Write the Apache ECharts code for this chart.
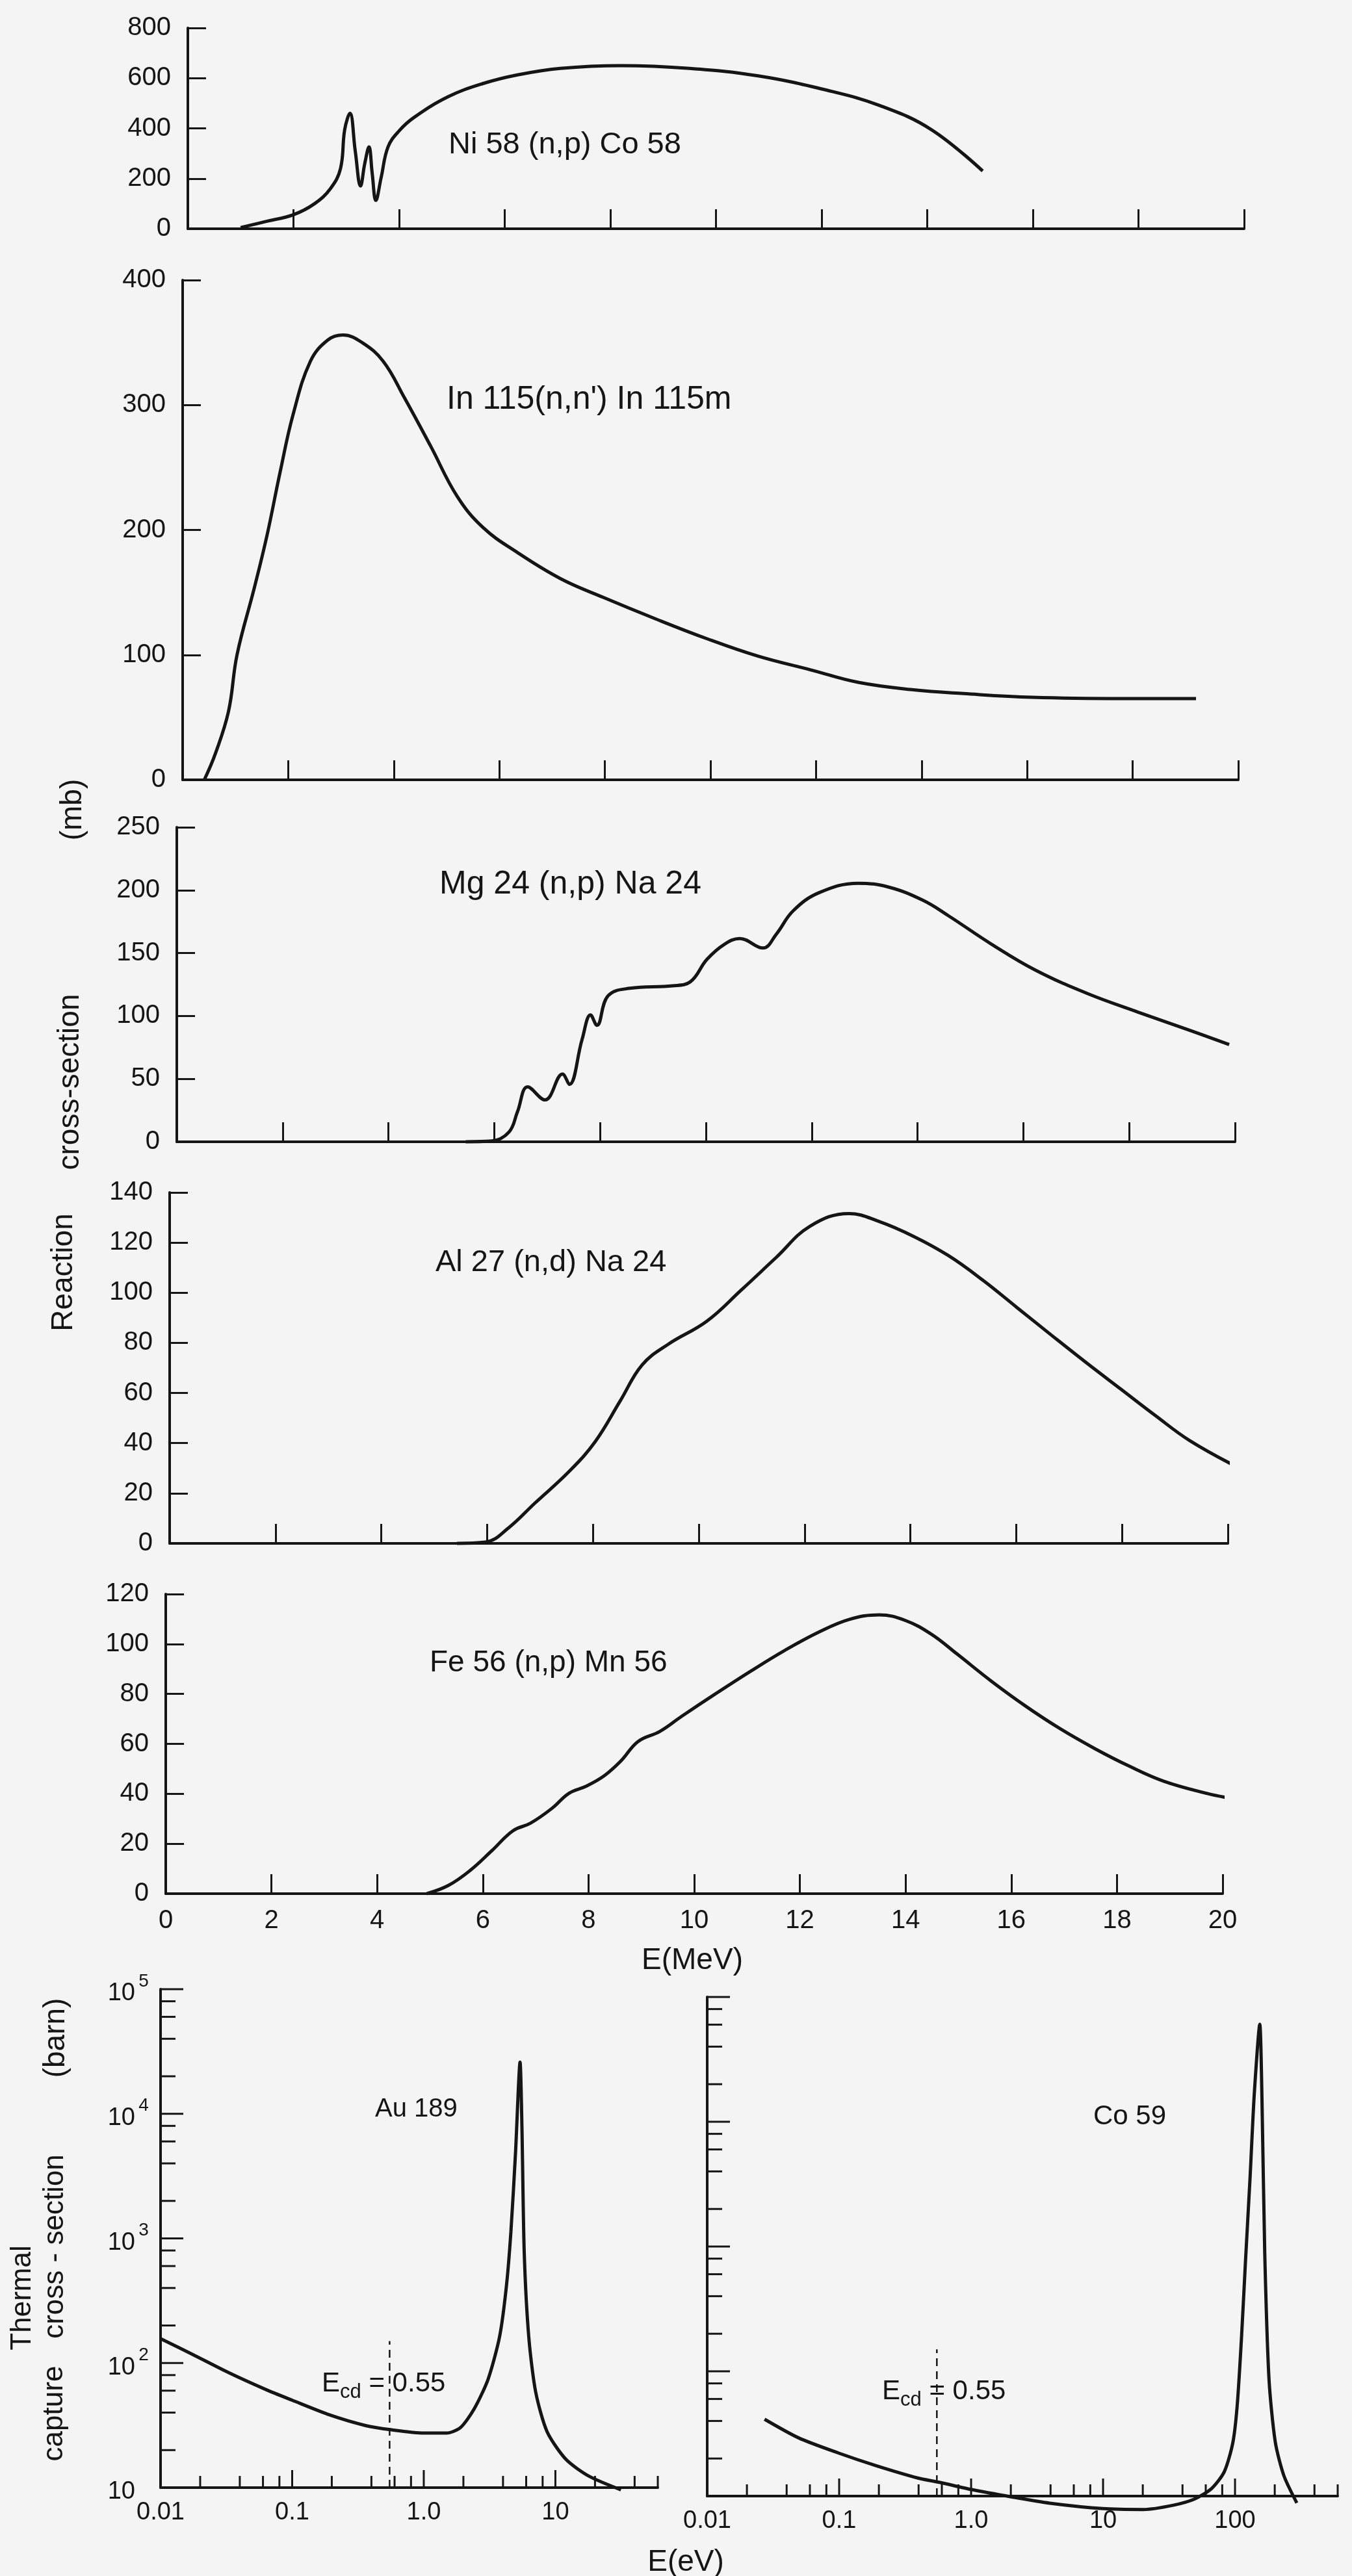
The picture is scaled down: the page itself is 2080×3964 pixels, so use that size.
<!DOCTYPE html>
<html><head><meta charset="utf-8">
<script src="https://cdn.jsdelivr.net/npm/echarts@6/dist/echarts.min.js"></script>
<style>html,body{margin:0;padding:0;background:#fff}#c{width:2080px;height:3964px}</style>
</head><body><div id="c"></div>
<script>
// ---------- DATA ----------
const meVTicks = [0, 2, 4, 6, 8, 10, 12, 14, 16, 18, 20];

const niE  = [1.0, 1.5, 2.0, 2.4, 2.7, 2.89, 2.97, 3.07, 3.17, 3.27, 3.35, 3.43, 3.49, 3.56, 3.66, 3.79, 4.0, 4.28, 4.93, 5.58, 6.24, 7.05, 8.2, 9.5, 10.8, 12.1, 13.1, 14.07, 15.05];
const niXS = [5, 30, 56, 100, 160, 239, 395, 460, 309, 170, 260, 326, 222, 113, 204, 326, 390, 443, 526, 578, 613, 639, 650, 639, 609, 552, 491, 396, 230];

const inE  = [0.41, 0.62, 0.87, 1.03, 1.36, 1.6, 1.85, 2.09, 2.42, 2.75, 3.04, 3.4, 3.8, 4.2, 4.7, 5.2, 5.69, 6.34, 7.16, 7.97, 8.95, 9.93, 10.9, 11.9, 12.8, 13.85, 14.8, 16.1, 17.8, 19.2];
const inXS = [0, 21, 55, 100, 154, 196, 247, 292, 335, 352, 356, 350, 335, 306, 267, 227, 202, 182, 161, 146, 129, 113, 99, 88, 78, 72, 69, 66, 65, 65];

const mgE  = [5.46, 5.95, 6.28, 6.44, 6.63, 6.96, 7.29, 7.42, 7.66, 7.82, 7.94, 8.15, 8.56, 9.37, 9.7, 10.02, 10.35, 10.64, 11.08, 11.33, 11.65, 12.14, 12.88, 13.45, 14.1, 14.59, 15.4, 16.22, 17.2, 18.17, 19.15, 19.89];
const mgXS = [0, 0.6, 7.8, 24, 43.6, 33.3, 53.8, 45.6, 81.4, 100.8, 92.6, 116, 122, 124, 127, 145, 157, 161.6, 154, 165, 183.6, 198, 205.5, 202.5, 192, 179.5, 157, 136.6, 118, 103, 88.5, 77.3];

const alE  = [5.43, 5.97, 6.4, 6.9, 7.55, 8.04, 8.52, 8.93, 9.42, 10.15, 10.8, 11.46, 12.1, 12.84, 13.4, 14.07, 14.72, 15.37, 16.02, 16.67, 17.33, 17.98, 18.63, 19.28, 20.2];
const alXS = [0, 0.5, 6.1, 16, 28.7, 40.5, 57, 71.2, 79.4, 88.6, 101, 114, 126.5, 131.6, 128.5, 122.4, 114.8, 105, 94, 83, 72, 61.5, 51, 41, 30.2];

const feE  = [4.94, 5.35, 5.76, 6.17, 6.57, 6.9, 7.31, 7.63, 7.96, 8.29, 8.61, 8.94, 9.35, 9.76, 10.4, 11.06, 11.71, 12.37, 12.94, 13.5, 14.0, 14.49, 14.98, 15.63, 16.28, 16.93, 17.59, 18.24, 18.89, 19.71, 20.2];
const feXS = [0, 3.3, 9.3, 17.2, 25.2, 28.2, 34.2, 40.2, 43.1, 47.1, 53.1, 61, 65, 71, 80, 89, 97.4, 104.9, 109.9, 111.7, 109.4, 103.9, 95.9, 85, 75, 66, 58, 51, 45, 40.1, 38];

const auE  = [0.01, 0.0173, 0.0331, 0.0636, 0.1, 0.193, 0.361, 0.556, 1.0, 1.49, 1.9, 2.42, 3.08, 3.76, 4.24, 4.59, 4.98, 5.39, 5.57, 5.8, 6.28, 7.08, 8.65, 12.0, 17.9, 31.5];
const auXS = [157, 118, 83.4, 61, 50.3, 38.3, 31.5, 29.2, 27.4, 27.4, 30.3, 43, 74, 161, 409, 1122, 4900, 26000, 7830, 762, 161, 58.7, 28.1, 16.9, 12.4, 9.6];

const coE  = [0.0272, 0.0495, 0.098, 0.188, 0.395, 0.573, 1.0, 2.02, 3.95, 10, 20.2, 34, 49.4, 66.5, 83, 96.4, 104, 112, 120, 130, 140, 154, 160, 168, 181, 202, 235, 294];
const coXS = [41.3, 29.2, 22.2, 17.6, 13.95, 12.9, 11.3, 9.85, 8.77, 7.93, 7.8, 8.44, 9.47, 11.5, 15.7, 27, 54, 187, 757, 3560, 16800, 60400, 15560, 883, 86, 27, 14.5, 8.8];

const ecdE = [0.55, 0.55];
const ecdXS = [10, 150];

const logXLabels = {'-2': '0.01', '-1': '0.1', '0': '1.0', '1': '10', '2': '100'};
const logDecadesXL = [0.01, 0.1, 1, 10];
const logDecadesXR = [0.01, 0.1, 1, 10, 100];
const logDecadesY = [10, 100, 1000, 10000, 100000];
const minorMult = [2, 4, 6, 8];

// ---------- LAYOUT / STYLE ----------
const FONT = '"Liberation Sans", Arial, sans-serif';
const INK = '#151515';
const zip = (a, b) => a.map((v, i) => [v, b[i]]);

const linPanels = [
  {left: 289, top: 43,   width: 1625, height: 309, ymax: 800, yint: 200, x: niE, y: niXS},
  {left: 281, top: 431,  width: 1624, height: 769, ymax: 400, yint: 100, x: inE, y: inXS},
  {left: 272, top: 1273, width: 1628, height: 484, ymax: 250, yint: 50,  x: mgE, y: mgXS},
  {left: 261, top: 1835, width: 1628, height: 540, ymax: 140, yint: 20,  x: alE, y: alXS},
  {left: 255, top: 2453, width: 1626, height: 461, ymax: 120, yint: 20,  x: feE, y: feXS}
];
const logPanels = [
  {left: 247,  top: 3061, width: 765, height: 767, xmax: 60,  decX: logDecadesXL, x: auE, y: auXS, labelsY: true},
  {left: 1088, top: 3073, width: 970, height: 768, xmax: 600, decX: logDecadesXR, x: coE, y: coXS, labelsY: false}
];

const grid = [], xAxis = [], yAxis = [], series = [];

linPanels.forEach((p, i) => {
  grid.push({left: p.left, top: p.top, width: p.width, height: p.height, containLabel: false});
  xAxis.push({
    type: 'value', gridIndex: i, min: 0, max: 20, interval: 2,
    axisLine: {show: true, onZero: false, lineStyle: {color: INK, width: 4}},
    axisTick: {show: true, inside: true, length: 30, lineStyle: {color: INK, width: 3}},
    axisLabel: {show: i === 4, fontFamily: FONT, fontSize: 40, color: INK, margin: 22},
    splitLine: {show: false}
  });
  yAxis.push({
    type: 'value', gridIndex: i, min: 0, max: p.ymax, interval: p.yint,
    axisLine: {show: true, lineStyle: {color: INK, width: 4}},
    axisTick: {show: true, inside: true, length: 28, lineStyle: {color: INK, width: 3}},
    axisLabel: {fontFamily: FONT, fontSize: 40, color: INK, margin: 26},
    splitLine: {show: false}
  });
  series.push({
    type: 'line', xAxisIndex: i, yAxisIndex: i, data: zip(p.x, p.y),
    showSymbol: false, smooth: 0.4, clip: false,
    lineStyle: {color: INK, width: 5}
  });
});

function expOf(v) { const e = Math.log10(v); return Math.abs(e - Math.round(e)) < 1e-6 ? Math.round(e) : null; }

function tickSeries(idx, items, dir, maj, min) {
  return {
    type: 'custom', xAxisIndex: idx, yAxisIndex: idx, clip: false, silent: true, z: 4,
    encode: {x: 0, y: 1}, data: items,
    renderItem: function (params, api) {
      const pt = api.coord([api.value(0), api.value(1)]);
      const len = api.value(2) ? maj : min;
      const shape = dir === 'x'
        ? {x1: pt[0], y1: pt[1], x2: pt[0], y2: pt[1] - len}
        : {x1: pt[0], y1: pt[1], x2: pt[0] + len, y2: pt[1]};
      return {type: 'line', shape: shape, style: {stroke: INK, lineWidth: 3}};
    }
  };
}

logPanels.forEach((p, k) => {
  const i = 5 + k;
  grid.push({left: p.left, top: p.top, width: p.width, height: p.height, containLabel: false});
  xAxis.push({
    type: 'log', logBase: 10, gridIndex: i, min: 0.01, max: p.xmax,
    axisLine: {show: true, onZero: false, lineStyle: {color: INK, width: 4}},
    axisTick: {show: false},
    axisLabel: {fontFamily: FONT, fontSize: 38, color: INK, margin: 20,
      formatter: v => { const e = expOf(v); return e === null ? '' : (logXLabels[String(e)] || ''); }},
    splitLine: {show: false}
  });
  yAxis.push({
    type: 'log', logBase: 10, gridIndex: i, min: 10, max: 100000,
    axisLine: {show: true, lineStyle: {color: INK, width: 4}},
    axisTick: {show: false},
    axisLabel: {show: p.labelsY, margin: 16, color: INK,
      formatter: v => { const e = expOf(v); if (e === null) return ''; return e === 1 ? '{n|10}{s| }' : '{n|10}{s|' + e + '}'; },
      rich: {
        n: {fontFamily: FONT, fontSize: 38, color: INK, lineHeight: 52, verticalAlign: 'bottom'},
        s: {fontFamily: FONT, fontSize: 28, color: INK, lineHeight: 30, verticalAlign: 'top', width: 20, align: 'left', padding: [0, 0, 0, 3]}
      }},
    splitLine: {show: false}
  });
  const xt = [];
  p.decX.forEach(d => { xt.push([d, 10, 1]); minorMult.forEach(m => { if (d * m <= p.xmax * 1.0001) xt.push([d * m, 10, 0]); }); });
  const yt = [];
  logDecadesY.forEach(d => { yt.push([0.01, d, 1]); if (d < 100000) minorMult.forEach(m => yt.push([0.01, d * m, 0])); });
  series.push(tickSeries(i, xt, 'x', 27, 18));
  series.push(tickSeries(i, yt, 'y', 35, 23));
  series.push({
    type: 'line', xAxisIndex: i, yAxisIndex: i, data: zip(p.x, p.y),
    showSymbol: false, smooth: 0.25, clip: false, lineStyle: {color: INK, width: 5}
  });
  series.push({
    type: 'line', xAxisIndex: i, yAxisIndex: i, data: zip(ecdE, ecdXS),
    showSymbol: false, clip: false, lineStyle: {color: INK, width: 2.5, type: [12, 8]}
  });
});

function txt(x, y, s, size, align) {
  return {type: 'text', x: x, y: y, silent: true,
    style: {text: s, font: size + 'px ' + FONT, fill: INK, align: align || 'left', verticalAlign: 'middle'}};
}
function vtxt(x, y, s, size) {
  return {type: 'text', x: x, y: y, rotation: Math.PI / 2, silent: true,
    style: {text: s, font: size + 'px ' + FONT, fill: INK, align: 'center', verticalAlign: 'middle'}};
}
function ecd(x, y) {
  return {type: 'text', x: x, y: y, silent: true,
    style: {text: '{a|E}{b|cd}{a| = 0.55}', fill: INK, align: 'left', verticalAlign: 'middle',
      rich: {
        a: {fontFamily: FONT, fontSize: 42, color: INK, lineHeight: 50, verticalAlign: 'top'},
        b: {fontFamily: FONT, fontSize: 31, color: INK, lineHeight: 34, verticalAlign: 'bottom'}
      }}};
}

const graphic = [
  txt(690, 223, 'Ni 58 (n,p) Co 58', 47),
  txt(687, 615, "In 115(n,n') In 115m", 50),
  txt(676, 1361, 'Mg 24 (n,p) Na 24', 50),
  txt(670, 1943, 'Al 27 (n,d) Na 24', 47),
  txt(661, 2559, 'Fe 56 (n,p) Mn 56', 46),
  txt(577, 3246, 'Au 189', 40),
  txt(1682, 3257, 'Co 59', 42),
  ecd(495, 3672),
  ecd(1357, 3684),
  txt(1065, 3017, 'E(MeV)', 46, 'center'),
  txt(1055, 3943, 'E(eV)', 46, 'center'),
  vtxt(112, 1246, '(mb)', 46),
  vtxt(108, 1665, 'cross-section', 46),
  vtxt(98, 1958, 'Reaction', 46),
  vtxt(35, 3536, 'Thermal', 44),
  vtxt(84, 3714, 'capture', 44),
  vtxt(85, 3457, 'cross - section', 44),
  vtxt(86, 3136, '(barn)', 46)
];

const chart = echarts.init(document.getElementById('c'), null, {renderer: 'canvas'});
chart.setOption({
  backgroundColor: '#f4f4f4',
  animation: false,
  grid: grid, xAxis: xAxis, yAxis: yAxis, series: series, graphic: graphic
});
</script></body></html>
